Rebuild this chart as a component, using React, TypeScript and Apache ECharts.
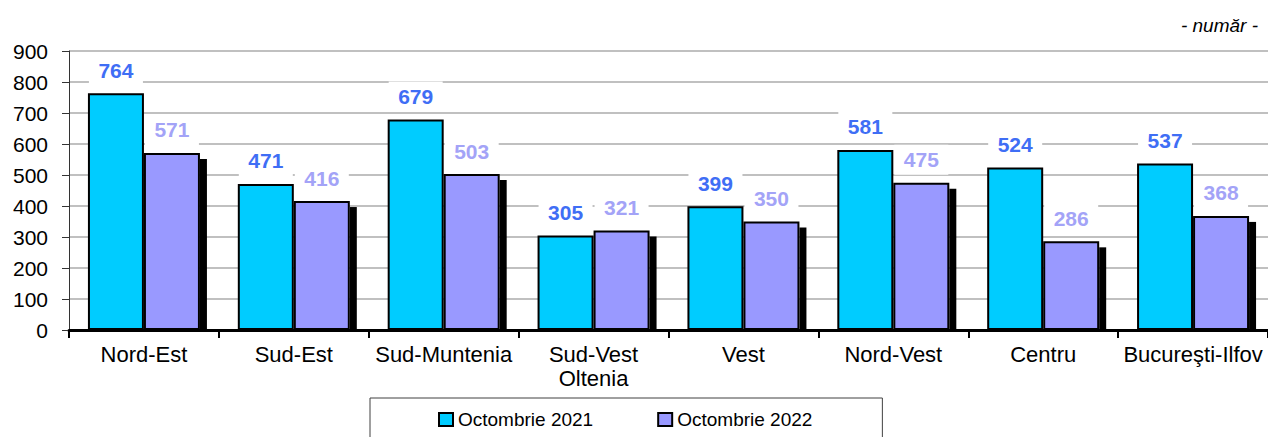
import React, { useEffect, useRef } from "react";
import * as echarts from "echarts";

const categories = ["Nord-Est", "Sud-Est", "Sud-Muntenia", "Sud-Vest\nOltenia", "Vest", "Nord-Vest", "Centru", "Bucureşti-Ilfov"];
const series2021 = [764, 471, 679, 305, 399, 581, 524, 537];
const series2022 = [571, 416, 503, 321, 350, 475, 286, 368];
const yTicks = { min: 0, max: 900, interval: 100 };
const seriesNames = ["Octombrie 2021", "Octombrie 2022"];
const unitLabel = "- număr -";

const BAR_W = 56;
const FONT = "'Liberation Sans', Arial, sans-serif";

export default function App() {
  const ref = useRef<HTMLDivElement>(null);
  useEffect(() => {
    if (!ref.current) return;
    const chart = echarts.init(ref.current, null, { renderer: "svg" });
    const labelBase = {
      show: true,
      position: "top",
      distance: 8,
      fontSize: 21,
      fontWeight: "bold",
      fontFamily: FONT,
      backgroundColor: "#ffffff",
      padding: [4, 0],
      width: 54,
      align: "center",
      lineHeight: 22,
    };
    chart.setOption({
      animation: false,
      textStyle: { fontFamily: FONT },
      grid: { left: 69, right: 0, top: 51, bottom: 107, containLabel: false },
      graphic: [
        {
          type: "text",
          right: 10,
          top: 16,
          style: { text: unitLabel, font: `italic 19px ${FONT}`, fill: "#000" },
        },
      ],
      legend: {
        data: seriesNames,
        left: 370,
        top: 398,
        orient: "horizontal",
        icon: "rect",
        itemWidth: 14,
        itemHeight: 13,
        itemGap: 64,
        padding: [12, 70, 30, 68],
        borderColor: "#404040",
        borderWidth: 1,
        textStyle: { fontSize: 19, color: "#000", fontFamily: FONT },
      },
      xAxis: {
        type: "category",
        data: categories,
        axisLine: { lineStyle: { color: "#000", width: 3 } },
        axisTick: { show: true, length: 8, alignWithLabel: false, lineStyle: { color: "#000", width: 2 } },
        axisLabel: { fontSize: 22, color: "#000", margin: 12, lineHeight: 24, interval: 0 },
        splitLine: { show: false },
      },
      yAxis: {
        type: "value",
        min: yTicks.min,
        max: yTicks.max,
        interval: yTicks.interval,
        axisLine: { show: true, lineStyle: { color: "#333", width: 1 } },
        axisTick: { show: true, length: 7, inside: false, lineStyle: { color: "#333", width: 1 } },
        axisLabel: { fontSize: 21, color: "#000", margin: 21 },
        splitLine: { show: true, lineStyle: { color: "#c0c0c0", width: 2 } },
      },
      series: [
        {
          name: seriesNames[0],
          type: "bar",
          data: series2021,
          barWidth: BAR_W,
          barGap: "0%",
          itemStyle: { color: "#00ccff", borderColor: "#000", borderWidth: 2 },
          label: { ...labelBase, color: "#3f6ef5" },
          z: 3,
        },
        {
          name: seriesNames[1],
          type: "bar",
          data: series2022,
          barWidth: BAR_W,
          barGap: "0%",
          itemStyle: { color: "#9999ff", borderColor: "#000", borderWidth: 2 },
          label: { ...labelBase, color: "#a3a3f7" },
          z: 3,
        },
        {
          name: "shadow",
          type: "custom",
          silent: true,
          z: 2,
          data: series2022.map((v, i) => [i, v]),
          renderItem: (params: any, api: any) => {
            const top = api.coord([api.value(0), api.value(1)]);
            const base = api.coord([api.value(0), 0]);
            const x = top[0] + BAR_W;
            const y = top[1] + 6;
            return {
              type: "rect",
              shape: { x, y, width: 7, height: base[1] - y },
              style: { fill: "#000" },
            };
          },
        },
      ],
    });
    return () => chart.dispose();
  }, []);
  return (
    <div
      ref={ref}
      style={{ position: "fixed", left: 0, top: 0, width: 1268, height: 437, background: "#fff" }}
    />
  );
}
